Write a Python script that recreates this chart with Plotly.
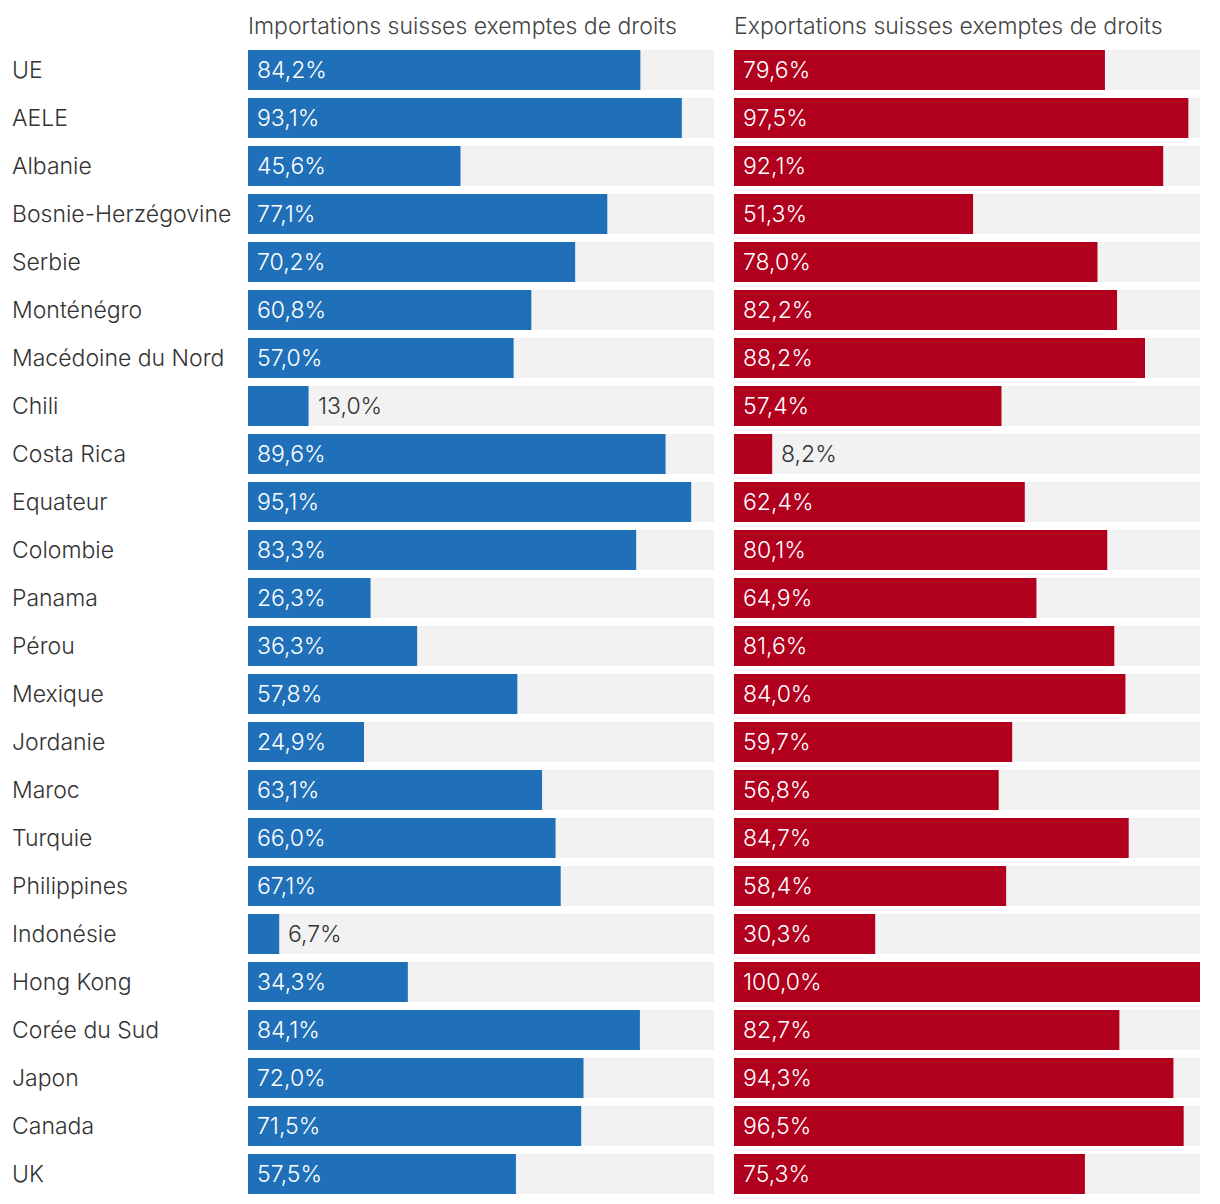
import plotly.graph_objects as go

countries = ["UE", "AELE", "Albanie", "Bosnie-Herzégovine", "Serbie", "Monténégro",
             "Macédoine du Nord", "Chili", "Costa Rica", "Equateur", "Colombie", "Panama",
             "Pérou", "Mexique", "Jordanie", "Maroc", "Turquie", "Philippines", "Indonésie",
             "Hong Kong", "Corée du Sud", "Japon", "Canada", "UK"]
imports = [84.2, 93.1, 45.6, 77.1, 70.2, 60.8, 57.0, 13.0, 89.6, 95.1, 83.3, 26.3,
           36.3, 57.8, 24.9, 63.1, 66.0, 67.1, 6.7, 34.3, 84.1, 72.0, 71.5, 57.5]
exports = [79.6, 97.5, 92.1, 51.3, 78.0, 82.2, 88.2, 57.4, 8.2, 62.4, 80.1, 64.9,
           81.6, 84.0, 59.7, 56.8, 84.7, 58.4, 30.3, 100.0, 82.7, 94.3, 96.5, 75.3]
titles = ["Importations suisses exemptes de droits", "Exportations suisses exemptes de droits"]

W, H = 1220, 1204
FONT = "Inter Light, Inter"
FS = 23
BLUE = "#2070b9"
RED = "#b0001e"
GREY = "#f2f2f2"

fig = go.Figure()

panels = [(imports, BLUE, "x", "y"), (exports, RED, "x2", "y2")]
for vals, col, xa, ya in panels:
    fig.add_trace(go.Bar(y=countries, x=[100] * len(countries), orientation="h",
                         marker=dict(color=GREY, line=dict(width=0)), xaxis=xa, yaxis=ya,
                         hoverinfo="skip", showlegend=False))
    fig.add_trace(go.Bar(y=countries, x=vals, orientation="h",
                         marker=dict(color=col, line=dict(width=0)), xaxis=xa, yaxis=ya,
                         showlegend=False))
    for c, v in zip(countries, vals):
        txt = f"{v:.1f}".replace(".", ",") + "%"
        inside = v >= 20
        fig.add_annotation(x=0 if inside else v, y=c, xref=xa, yref=ya, text=txt,
                           showarrow=False, xanchor="left", yanchor="middle", xshift=7,
                           font=dict(family=FONT, size=FS, weight=300,
                                     color="#ffffff" if inside else "#333333"))

top, bottom = 46, 1198
ydom = [1 - bottom / H, 1 - top / H]
cat_range = [len(countries) - 0.5, -0.5]
fig.update_layout(
    width=W, height=H, margin=dict(l=0, r=0, t=0, b=0),
    paper_bgcolor="white", plot_bgcolor="white",
    barmode="overlay", bargap=8 / 48,
    xaxis=dict(domain=[248 / W, 714 / W], range=[0, 100], visible=False, fixedrange=True),
    xaxis2=dict(domain=[734 / W, 1200 / W], range=[0, 100], visible=False, fixedrange=True),
    yaxis=dict(domain=ydom, range=cat_range, visible=False, type="category"),
    yaxis2=dict(domain=ydom, range=cat_range, visible=False, type="category", anchor="x2"),
)

for c in countries:
    fig.add_annotation(x=10 / W, y=c, xref="paper", yref="y", text=c, showarrow=False,
                       xanchor="left", yanchor="middle",
                       font=dict(family=FONT, size=FS, weight=300, color="#333333"))

for t, xp in zip(titles, [246, 732]):
    fig.add_annotation(x=xp / W, y=1 - 26 / H, xref="paper", yref="paper", text=t,
                       showarrow=False, xanchor="left", yanchor="middle",
                       font=dict(family=FONT, size=FS, weight=300, color="#444444"))

fig.write_html("out.html", config={"displayModeBar": False},
               post_script="document.body.style.margin='0';")
